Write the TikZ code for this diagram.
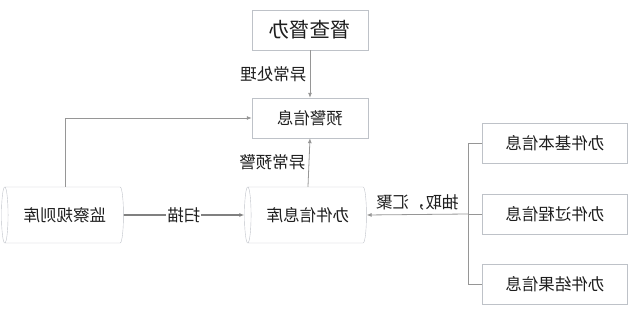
\documentclass[tikz,border=0pt]{standalone}
\usepackage{fontspec}
\setmainfont{Noto Sans CJK SC}
\usepackage{tikz}
\usetikzlibrary{shapes.geometric,arrows.meta}
\definecolor{boxline}{RGB}{190, 194, 200}
\definecolor{flowline}{RGB}{150, 150, 150}
\definecolor{darktext}{RGB}{30, 30, 30}

\tikzset{
  infobox/.style={rectangle, draw=boxline, minimum width=116pt, minimum height=40pt, text=darktext, font=\fontsize{16.5}{18}\selectfont},
  srcbox/.style={infobox, minimum width=145pt},
  dbcyl/.style={cylinder, shape border rotate=0, aspect=0.3, draw=boxline, minimum width=56pt, minimum height=122pt, text=darktext, font=\fontsize{16.5}{18}\selectfont},
  flow/.style={draw=flowline, line width=0.8pt, -{Latex[length=5pt,width=4pt]}},
  tag/.style={text=darktext, font=\fontsize{16.5}{18}\selectfont}
}

\begin{document}
\begin{tikzpicture}[x=1pt, y=1pt, xscale=-1, transform shape]
  \useasboundingbox (0,0) rectangle (630,313);
  % boxes
  \node[infobox, minimum height=40pt, font=\fontsize{20.5}{22}\selectfont] (dcdb) at (320,283) {督查督办};
  \node[infobox] (yjxx) at (320,195) {预警信息};
  \node[dbcyl] (bjk) at (322,98) {办件信息库};
  \node[dbcyl] (gzk) at (565,98) {监察规则库};
  \node[srcbox] (jbxx) at (75,170) {办件基本信息};
  \node[srcbox] (gcxx) at (75,99) {办件过程信息};
  \node[srcbox] (jgxx) at (75,29) {办件结果信息};
  \coordinate (brk) at (162,99);
  % connectors
  \draw[flow] (dcdb.south) -- node[tag, right] {异常处理} (yjxx.north);
  \draw[flow] (bjk.north) -- node[tag, right] {异常预警} (yjxx.south);
  \draw[flow] (gzk.north) |- (yjxx.east);
  \draw[flow, line width=1.6pt, draw=gray] (gzk.west) -- node[tag, fill=white, inner sep=1pt] {扫描} (bjk.east);
  \draw[draw=flowline, line width=0.8pt] (jbxx.east) -- (jbxx.east -| brk) -- (jgxx.east -| brk) -- (jgxx.east);
  \draw[draw=flowline, line width=0.8pt] (gcxx.east) -- (brk);
  \draw[flow] (brk) -- node[tag, above] {抽取，汇聚} (bjk.west);
\end{tikzpicture}
\end{document}
